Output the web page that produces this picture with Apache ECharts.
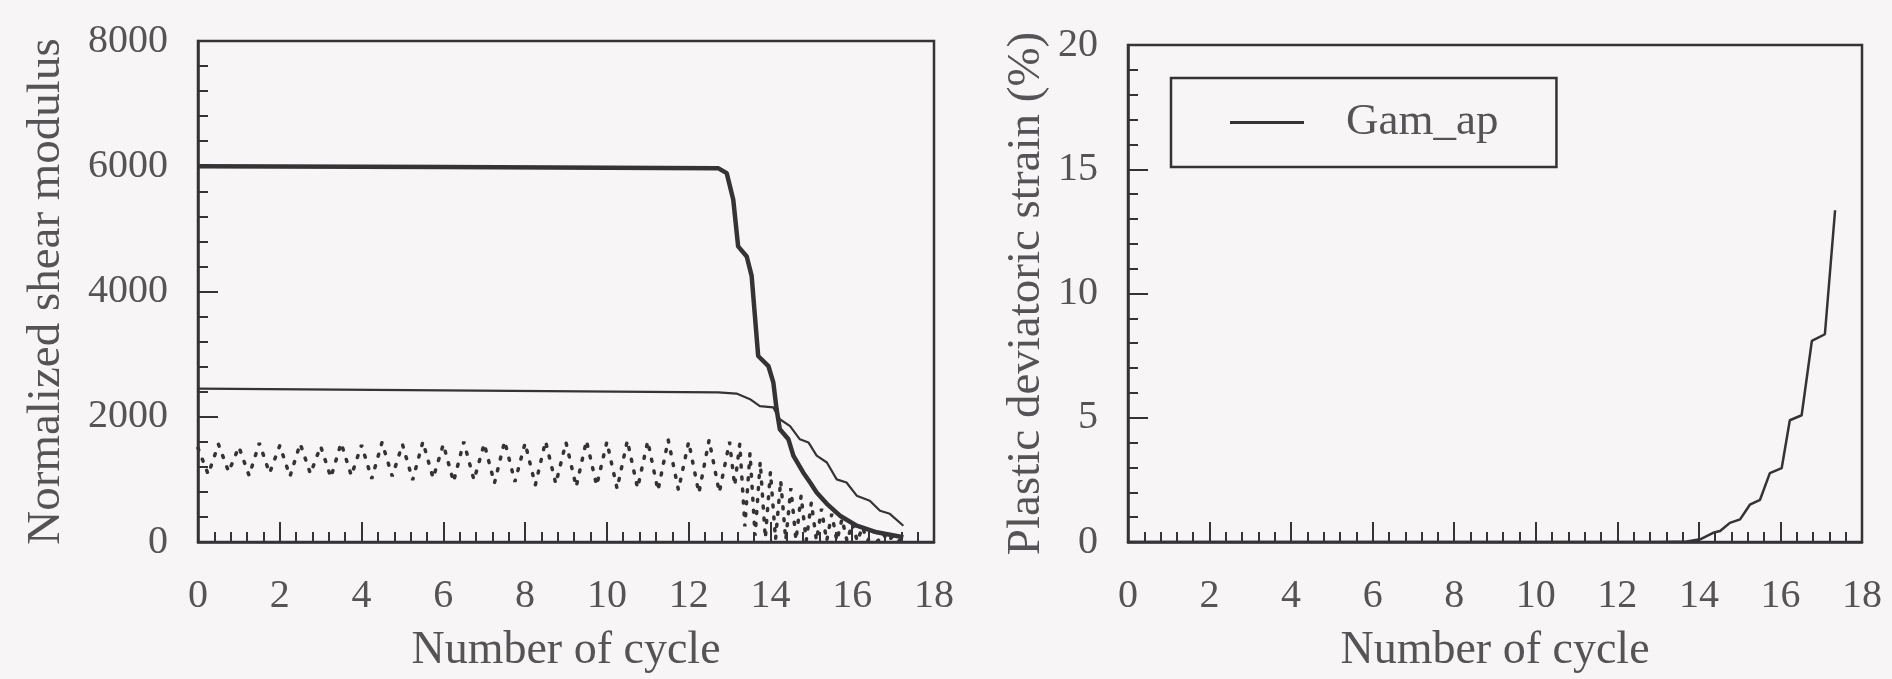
<!DOCTYPE html>
<html>
<head>
<meta charset="utf-8">
<title>Shear modulus and plastic deviatoric strain vs. number of cycle</title>
<script src="https://cdn.jsdelivr.net/npm/echarts@6/dist/echarts.min.js"></script>
<style>
  html, body { margin: 0; padding: 0; background: #f8f5f6; }
  #chart { width: 1892px; height: 679px; }
</style>
</head>
<body>
<div id="chart"></div>
<script>
// Axis ticks
const xTicks = { min: 0, max: 18, interval: 2 };
const gTicks = { min: 0, max: 8000, interval: 2000 };
const sTicks = { min: 0, max: 20, interval: 5 };

// Left panel: thick modulus curve
const thickX = [0, 6, 12.72, 12.93, 13.09, 13.21, 13.42, 13.54, 13.62, 13.70, 13.95, 14.07, 14.15, 14.23, 14.44, 14.56, 14.80, 14.97, 15.13, 15.38, 15.70, 16.11, 16.60, 17.25];
const thickY = [6000, 5990, 5970, 5890, 5470, 4720, 4560, 4250, 3610, 2970, 2810, 2550, 2120, 1800, 1640, 1380, 1110, 950, 790, 610, 420, 260, 155, 75];

// Left panel: thin modulus curve
const thinX = [0, 6, 12.72, 13.17, 13.50, 13.74, 14.07, 14.23, 14.48, 14.72, 14.93, 15.13, 15.38, 15.62, 15.86, 16.11, 16.43, 16.68, 16.92, 17.25];
const thinY = [2450, 2420, 2390, 2370, 2280, 2170, 2150, 1960, 1850, 1640, 1590, 1380, 1270, 1000, 950, 740, 660, 500, 450, 260];

// Left panel: cyclic modulus (dotted)
const cycX = [0, 0.25, 0.5, 0.75, 1, 1.25, 1.5, 1.75, 2, 2.25, 2.5, 2.75, 3, 3.25, 3.5, 3.75,
  4, 4.25, 4.5, 4.75, 5, 5.25, 5.5, 5.75, 6, 6.25, 6.5, 6.75, 7, 7.25, 7.5, 7.75,
  8, 8.25, 8.5, 8.75, 9, 9.25, 9.5, 9.75, 10, 10.25, 10.5, 10.75, 11, 11.25, 11.5, 11.75,
  12, 12.25, 12.5, 12.75, 13, 13.125, 13.25, 13.375, 13.5, 13.625, 13.75, 13.875,
  14, 14.125, 14.25, 14.375, 14.5, 14.625, 14.75, 14.875, 15, 15.125, 15.25, 15.375,
  15.5, 15.625, 15.75, 15.875, 16, 16.125, 16.25, 16.375, 16.5, 16.625, 16.75, 16.875,
  17, 17.125, 17.25];
const cycY = [1500, 1080, 1560, 1120, 1520, 1060, 1580, 1100, 1540, 1050, 1570, 1090, 1530, 1030, 1580, 1060,
  1550, 1010, 1590, 1050, 1560, 990, 1600, 1020, 1560, 960, 1600, 990, 1570, 940, 1610, 960,
  1580, 910, 1610, 930, 1590, 880, 1620, 900, 1600, 850, 1620, 860, 1610, 820, 1630, 830,
  1600, 780, 1630, 790, 1600, 900, 1570, 250, 1420, 100, 1280, 60,
  1120, 40, 980, 30, 860, 30, 740, 20, 630, 20, 530, 15,
  450, 15, 370, 10, 300, 10, 240, 10, 190, 10, 140, 10,
  100, 10, 60];

// Right panel: plastic deviatoric strain (%)
const gamX = [0, 13.0, 13.70, 14.03, 14.35, 14.52, 14.76, 15.01, 15.25, 15.50, 15.74, 16.03, 16.23, 16.52, 16.77, 17.09, 17.34];
const gamY = [0, 0, 0.02, 0.11, 0.37, 0.44, 0.77, 0.91, 1.50, 1.70, 2.77, 2.97, 4.90, 5.10, 8.09, 8.36, 13.35];

const pairs = (xs, ys) => xs.map((x, i) => [x, ys[i]]);

const FONT = "'Liberation Serif', 'DejaVu Serif', serif";
const INK = '#353335';
const TEXT = '#555355';

function xAxisFor(gridIndex) {
  return {
    type: 'value', gridIndex,
    min: xTicks.min, max: xTicks.max, interval: xTicks.interval,
    name: 'Number of cycle', nameLocation: 'middle', nameGap: 86,
    nameTextStyle: { fontFamily: FONT, fontSize: 46, color: TEXT },
    axisLine: { show: true, lineStyle: { color: INK, width: 2.5 } },
    axisTick: { show: true, inside: true, length: 20, lineStyle: { color: INK, width: 2 } },
    minorTick: { show: true, splitNumber: 5, length: 10, lineStyle: { color: INK, width: 2 } },
    axisLabel: { margin: 34, fontFamily: FONT, fontSize: 40, color: TEXT },
    splitLine: { show: false }
  };
}

function yAxisFor(gridIndex, ticks, name, nameGap) {
  return {
    type: 'value', gridIndex,
    min: ticks.min, max: ticks.max, interval: ticks.interval,
    name, nameLocation: 'middle', nameGap, nameRotate: 90,
    nameTextStyle: { fontFamily: FONT, fontSize: 47, color: TEXT },
    axisLine: { show: true, lineStyle: { color: INK, width: 2.5 } },
    axisTick: { show: true, inside: true, length: 20, lineStyle: { color: INK, width: 2 } },
    minorTick: { show: true, splitNumber: 5, length: 10, lineStyle: { color: INK, width: 2 } },
    axisLabel: { margin: 30, fontFamily: FONT, fontSize: 40, color: TEXT, formatter: v => String(v) },
    splitLine: { show: false }
  };
}

const chart = echarts.init(document.getElementById('chart'), null, { renderer: 'canvas' });
chart.setOption({
  backgroundColor: '#f8f5f6',
  animation: false,
  grid: [
    { left: 198, right: 958, top: 41, bottom: 136, show: true, borderColor: INK, borderWidth: 2.5, backgroundColor: 'transparent' },
    { left: 1128, right: 30, top: 45, bottom: 133, show: true, borderColor: INK, borderWidth: 2.5, backgroundColor: 'transparent' }
  ],
  xAxis: [xAxisFor(0), xAxisFor(1)],
  yAxis: [
    yAxisFor(0, gTicks, 'Normalized shear modulus', 128),
    yAxisFor(1, sTicks, 'Plastic deviatoric strain (%)', 78)
  ],
  legend: {
    data: [{ name: 'Gam_ap', icon: 'rect' }],
    left: 1171, top: 78,
    padding: [22, 58, 22, 59],
    borderColor: INK, borderWidth: 2.5,
    itemWidth: 74, itemHeight: 3,
    selectedMode: false,
    textStyle: { fontFamily: FONT, fontSize: 45, color: TEXT, padding: [0, 0, 0, 37] }
  },
  series: [
    {
      name: 'Cyclic modulus', type: 'line', xAxisIndex: 0, yAxisIndex: 0,
      data: pairs(cycX, cycY), showSymbol: false, symbol: 'none',
      lineStyle: { color: INK, width: 3.5, type: [2, 10], cap: 'round' }
    },
    {
      name: 'Secant modulus', type: 'line', xAxisIndex: 0, yAxisIndex: 0,
      data: pairs(thinX, thinY), showSymbol: false, symbol: 'none',
      lineStyle: { color: INK, width: 2.2 }
    },
    {
      name: 'Tangent modulus', type: 'line', xAxisIndex: 0, yAxisIndex: 0,
      data: pairs(thickX, thickY), showSymbol: false, symbol: 'none',
      lineStyle: { color: INK, width: 4.5 }
    },
    {
      name: 'Gam_ap', type: 'line', xAxisIndex: 1, yAxisIndex: 1,
      data: pairs(gamX, gamY), showSymbol: false, symbol: 'none',
      itemStyle: { color: INK },
      lineStyle: { color: INK, width: 2.5 }
    }
  ]
});
</script>
</body>
</html>
